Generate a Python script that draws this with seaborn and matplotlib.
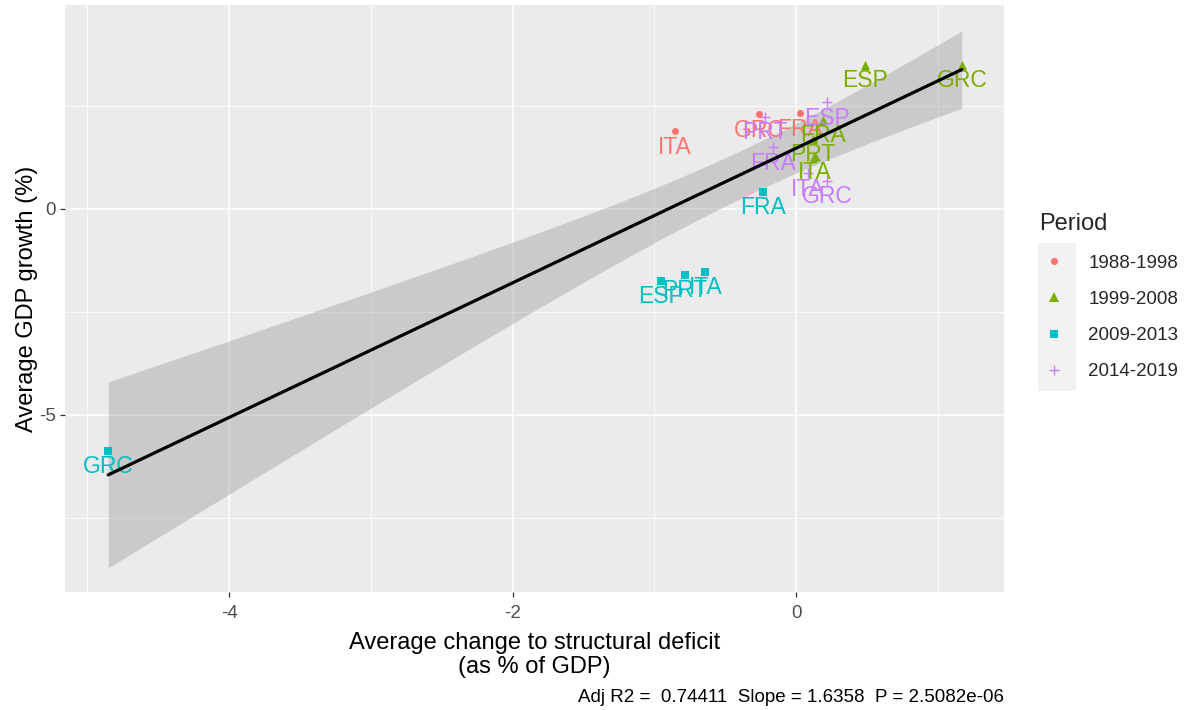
import numpy as np
import pandas as pd
import matplotlib
matplotlib.use("Agg")
import matplotlib.pyplot as plt
import seaborn as sns
from matplotlib.patches import Rectangle
from matplotlib.lines import Line2D
from matplotlib.ticker import FixedLocator

# ---------------- data ----------------
periods = ["1988-1998", "1999-2008", "2009-2013", "2014-2019"]

p1_countries = ["ITA", "GRC", "FRA"]
p1_deficit = [-0.854, -0.26, 0.028]
p1_growth = [1.89, 2.30, 2.32]

p2_countries = ["ESP", "GRC", "FRA", "PRT", "ITA"]
p2_deficit = [0.489, 1.169, 0.19, 0.12, 0.13]
p2_growth = [3.50, 3.50, 2.16, 1.70, 1.26]

p3_countries = ["ESP", "PRT", "ITA", "FRA", "GRC"]
p3_deficit = [-0.955, -0.783, -0.64, -0.23, -4.852]
p3_growth = [-1.74, -1.60, -1.52, 0.42, -5.87]

p4_countries = ["ESP", "PRT", "FRA", "ITA", "GRC"]
p4_deficit = [0.216, -0.219, -0.16, 0.085, 0.22]
p4_growth = [2.59, 2.24, 1.50, 0.87, 0.68]

caption = "Adj R2 =  0.74411  Slope = 1.6358  P = 2.5082e-06"
x_title = "Average change to structural deficit\n(as % of GDP)"
y_title = "Average GDP growth (%)"
legend_title = "Period"

rows = []
for per, cs, xs, ys in [
    (periods[0], p1_countries, p1_deficit, p1_growth),
    (periods[1], p2_countries, p2_deficit, p2_growth),
    (periods[2], p3_countries, p3_deficit, p3_growth),
    (periods[3], p4_countries, p4_deficit, p4_growth),
]:
    for c, x, y in zip(cs, xs, ys):
        rows.append({"Country": c, "Period": per, "deficit": x, "growth": y})
df = pd.DataFrame(rows)

# ---------------- style ----------------
colors = dict(zip(periods, ["#F8766D", "#7CAE00", "#00BFC4", "#C77CFF"]))
markers = dict(zip(periods, ["o", "^", "s", "+"]))
sizes = dict(zip(periods, [26, 44, 26, 56]))

sns.set_theme(style="darkgrid")
plt.rcParams["font.family"] = ["Liberation Sans", "DejaVu Sans"]
plt.rcParams["axes.unicode_minus"] = False

W, H = 1189, 710
fig = plt.figure(figsize=(W / 100, H / 100), dpi=100)
ax = fig.add_axes([65 / W, 1 - 592 / H, (1004 - 65) / W, (592 - 5) / H])
ax.set_facecolor("#EBEBEB")

# regression (OLS with analytic 95% CI)
x = df["deficit"].to_numpy()
y = df["growth"].to_numpy()
n = len(x)
slope, intercept = np.polyfit(x, y, 1)
resid = y - (slope * x + intercept)
s_err = np.sqrt(np.sum(resid ** 2) / (n - 2))
xm = x.mean()
sxx = np.sum((x - xm) ** 2)
T975 = 2.120  # t quantile, df = 16
xs = np.linspace(x.min(), x.max(), 100)
yfit = slope * xs + intercept
half = T975 * s_err * np.sqrt(1 / n + (xs - xm) ** 2 / sxx)
ax.fill_between(xs, yfit - half, yfit + half, color="#999999", alpha=0.4, lw=0, zorder=2)

# points
for per in periods:
    sub = df[df["Period"] == per]
    if markers[per] == "+":
        sns.scatterplot(data=sub, x="deficit", y="growth", ax=ax, color=colors[per],
                        marker="+", s=sizes[per], linewidth=1.0, legend=False, zorder=3)
    else:
        sns.scatterplot(data=sub, x="deficit", y="growth", ax=ax, color=colors[per],
                        marker=markers[per], s=sizes[per], linewidth=0, legend=False, zorder=3)

# labels
for _, r in df.iterrows():
    ax.annotate(r["Country"], (r["deficit"], r["growth"]), xytext=(0, -11.5),
                textcoords="offset points", ha="center", va="center",
                color=colors[r["Period"]], fontsize=16.5, zorder=4)

sns.lineplot(x=xs, y=yfit, ax=ax, color="black", lw=2.3, zorder=5)

# axes
ax.set_xlim(-5.157, 1.467)
ax.set_ylim(-9.30, 4.95)
ax.xaxis.set_major_locator(FixedLocator([-4, -2, 0]))
ax.xaxis.set_minor_locator(FixedLocator([-5, -3, -1, 1]))
ax.yaxis.set_major_locator(FixedLocator([-5, 0]))
ax.yaxis.set_minor_locator(FixedLocator([-7.5, -2.5, 2.5]))
ax.grid(which="major", color="white", lw=1.1)
ax.grid(which="minor", color="white", lw=0.55)
ax.set_axisbelow(True)
for sp in ax.spines.values():
    sp.set_visible(False)
ax.tick_params(which="major", length=3.5, width=0.9, color="#333333",
               labelsize=13.5, labelcolor="#4D4D4D", pad=3, bottom=True, left=True)
ax.tick_params(axis="x", which="major", pad=6)
ax.tick_params(which="minor", length=0, bottom=False, left=False)
ax.set_xlabel(x_title, fontsize=17, color="black", labelpad=7, linespacing=1.15)
ax.set_ylabel(y_title, fontsize=17, color="black", labelpad=1)

# legend
fig.patches.append(Rectangle((1038 / W, 1 - 391 / H), 38 / W, 148 / H,
                             transform=fig.transFigure, facecolor="#F2F2F2",
                             edgecolor="none", zorder=0))
handles = []
for per in periods:
    if markers[per] == "+":
        h = Line2D([], [], ls="none", marker="+", color=colors[per], ms=np.sqrt(sizes[per]), mew=1.0)
    else:
        h = Line2D([], [], ls="none", marker=markers[per], color=colors[per],
                   ms=np.sqrt(sizes[per]), mew=0)
    handles.append(h)
leg = fig.legend(handles, periods, loc="upper left", bbox_to_anchor=(1030 / W, 1 - 204 / H),
                 frameon=False, title=legend_title, fontsize=13.5, title_fontsize=17,
                 handlelength=1.6, handletextpad=1.0, labelspacing=1.02, alignment="left",
                 borderpad=0.0)

fig.text(1004 / W, 1 - 697 / H, caption, ha="right", va="center", fontsize=13.5, color="black")

fig.savefig("out.png", dpi=100)
